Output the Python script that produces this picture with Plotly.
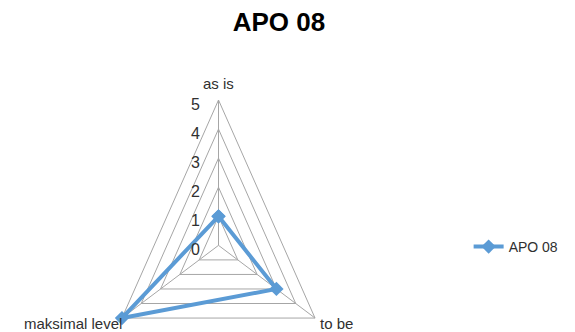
import math
import plotly.graph_objects as go

# Radar data
categories = ["as is", "to be", "maksimal level"]
values = [1, 3, 5]
series_name = "APO 08"
tick_values = [0, 1, 2, 3, 4, 5]
tick_labels = ["0", "1", "2", "3", "4", "5"]
r_max = 5

FONT = "Liberation Sans, Arial, sans-serif"
BLUE = "#5b9bd5"
GRID = "#a6a6a6"

n = len(categories)
angles = [2 * math.pi * i / n for i in range(n)]  # clockwise from top


def to_xy(r, a):
    return r * math.sin(a), r * math.cos(a)


fig = go.Figure()

# triangular gridlines, one per tick level above zero
for lvl in tick_values[1:]:
    pts = [to_xy(lvl, a) for a in angles] + [to_xy(lvl, angles[0])]
    fig.add_trace(go.Scatter(
        x=[p[0] for p in pts], y=[p[1] for p in pts], mode="lines",
        line=dict(color=GRID, width=1), hoverinfo="skip", showlegend=False))

# spokes from centre to each category
for a in angles:
    ex, ey = to_xy(r_max, a)
    fig.add_trace(go.Scatter(
        x=[0, ex], y=[0, ey], mode="lines",
        line=dict(color=GRID, width=1), hoverinfo="skip", showlegend=False))

# data series, closed loop
pts = [to_xy(v, a) for v, a in zip(values, angles)]
pts.append(pts[0])
fig.add_trace(go.Scatter(
    x=[p[0] for p in pts], y=[p[1] for p in pts], mode="lines+markers",
    name=series_name,
    line=dict(color=BLUE, width=4),
    marker=dict(symbol="diamond", size=11, color=BLUE),
    showlegend=True))

# category labels around the outside
anns = []
for cat, a in zip(categories, angles):
    ex, ey = to_xy(r_max, a)
    if abs(math.sin(a)) < 1e-9:
        anns.append(dict(x=ex, y=ey, text=cat, showarrow=False,
                         xanchor="center", yanchor="bottom", yshift=6))
    elif math.sin(a) > 0:
        anns.append(dict(x=ex, y=ey, text=cat, showarrow=False,
                         xanchor="left", yanchor="middle", xshift=3, yshift=-5))
    else:
        anns.append(dict(x=ex, y=ey, text=cat, showarrow=False,
                         xanchor="right", yanchor="middle", xshift=2, yshift=-5))

# value tick labels along the top spoke
for tv, tl in zip(tick_values, tick_labels):
    anns.append(dict(x=0, y=tv, text=tl, showarrow=False,
                     xanchor="right", yanchor="middle", xshift=-17, yshift=-4,
                     font=dict(size=16, color="#303030", family=FONT)))

fig.update_layout(
    width=575, height=332,
    margin=dict(l=0, r=0, t=0, b=0),
    paper_bgcolor="white", plot_bgcolor="white",
    font=dict(family=FONT, size=15, color="#303030"),
    title=dict(text="<b>APO 08</b>", x=0.485, xanchor="center",
               y=0.935, yanchor="middle",
               font=dict(family=FONT, size=26, color="#000000")),
    xaxis=dict(range=[-9.80, 15.99], visible=False, fixedrange=True),
    yaxis=dict(range=[-2.98, 8.44], visible=False, fixedrange=True),
    legend=dict(x=0.815, y=0.256, xanchor="left", yanchor="middle",
                font=dict(family=FONT, size=14, color="#303030"),
                bgcolor="rgba(0,0,0,0)", itemwidth=30),
    annotations=anns,
    showlegend=True,
)

fig.write_html("out.html")
